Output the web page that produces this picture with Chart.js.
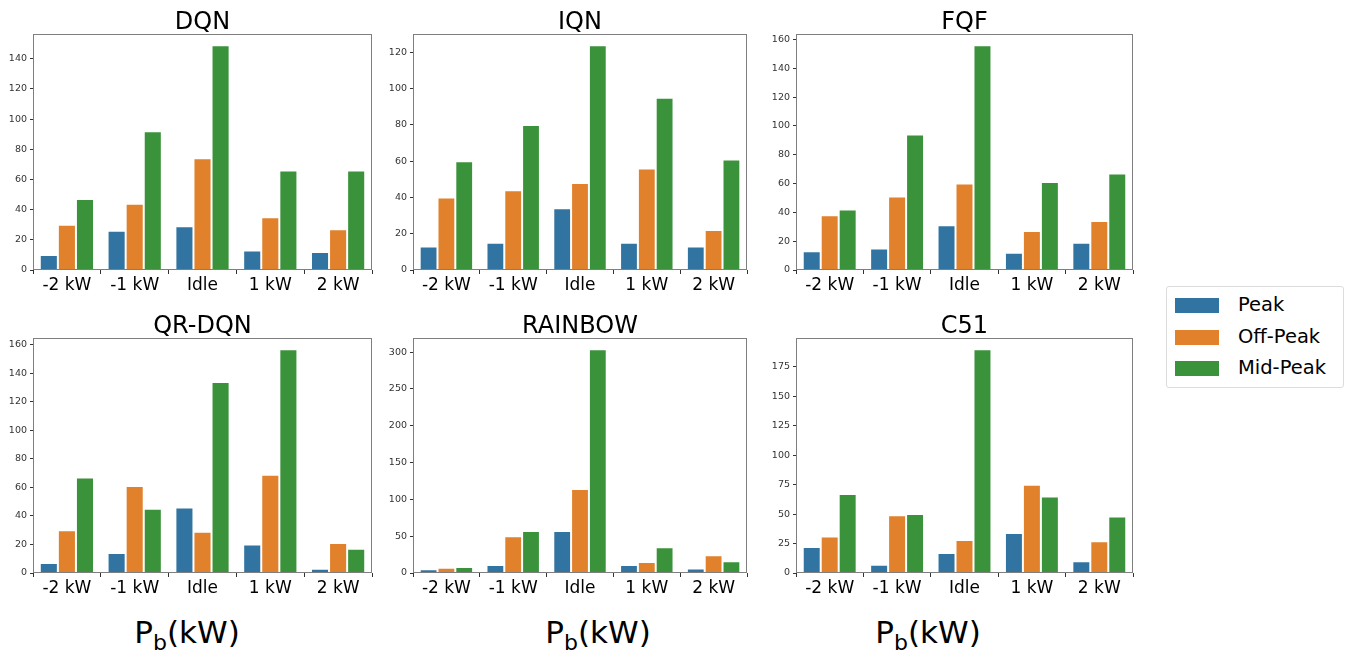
<!DOCTYPE html>
<html>
<head>
<meta charset="utf-8">
<script src="https://cdn.jsdelivr.net/npm/chart.js@4"></script>
<style>
  body { margin: 0; background: #fff; font-family: "DejaVu Sans", sans-serif; }
  #wrap { position: relative; width: 1347px; height: 654px; overflow: hidden; }
  canvas { position: absolute; }
  .title { position: absolute; font-size: 24px; color: #000; text-align: center; width: 300px; line-height: 24px; }
  .xlab { position: absolute; font-size: 31px; color: #000; text-align: center; width: 200px; line-height: 32px; }
  .xlab sub { font-size: 22px; vertical-align: -7px; line-height: 0; }
  #legend { position: absolute; left: 1166px; top: 286px; width: 176px; height: 100px;
            border: 1px solid #dcdcdc; border-radius: 3px; background: #fff; }
  .row { position: absolute; left: 8px; height: 20px; font-size: 19.5px; line-height: 20px; color: #000; }
  .row span.sw { position: absolute; left: 0; top: 3px; width: 44px; height: 15px; }
  .row span.tx { position: absolute; left: 63px; top: 0; white-space: nowrap; }
</style>
</head>
<body>
<div id="wrap"></div>
<script>
// categories and series
var categories = ["-2 kW", "-1 kW", "Idle", "1 kW", "2 kW"];
var seriesNames = ["Peak", "Off-Peak", "Mid-Peak"];
var seriesColors = ["#3274a1", "#e1812c", "#3a923a"];

var dqnPeak = [10, 26, 29, 13, 12];
var dqnOff  = [30, 44, 74, 35, 27];
var dqnMid  = [47, 92, 149, 66, 66];

var iqnPeak = [13, 15, 34, 15, 13];
var iqnOff  = [40, 44, 48, 56, 22];
var iqnMid  = [60, 80, 124, 95, 61];

var fqfPeak = [13, 15, 31, 12, 19];
var fqfOff  = [38, 51, 60, 27, 34];
var fqfMid  = [42, 94, 156, 61, 67];

var qrPeak = [7, 14, 46, 20, 3];
var qrOff  = [30, 61, 29, 69, 21];
var qrMid  = [67, 45, 134, 157, 17];

var rainbowPeak = [5, 11, 57, 11, 6];
var rainbowOff  = [7, 50, 114, 15, 24];
var rainbowMid  = [8, 57, 304, 35, 16];

var c51Peak = [22, 7, 17, 34, 10];
var c51Off  = [31, 49, 28, 75, 27];
var c51Mid  = [67, 50, 190, 65, 48];

// y tick steps per panel
var tickSteps = [20, 20, 20, 20, 50, 25];

var panels = [
  { title: "DQN",     series: [dqnPeak, dqnOff, dqnMid],             L: 33,  T: 34,  R: 372,  B: 270 },
  { title: "IQN",     series: [iqnPeak, iqnOff, iqnMid],             L: 413, T: 34,  R: 747,  B: 270 },
  { title: "FQF",     series: [fqfPeak, fqfOff, fqfMid],             L: 796, T: 34,  R: 1133, B: 270 },
  { title: "QR-DQN",  series: [qrPeak, qrOff, qrMid],                L: 33,  T: 338, R: 372,  B: 573 },
  { title: "RAINBOW", series: [rainbowPeak, rainbowOff, rainbowMid], L: 413, T: 338, R: 747,  B: 573 },
  { title: "C51",     series: [c51Peak, c51Off, c51Mid],             L: 796, T: 338, R: 1133, B: 573 }
];

var xlabCenters = [187, 598, 928];

var wrap = document.getElementById("wrap");
var YW = 40, XH = 34, PAD = 9;

// full box around plot area, like matplotlib spines
var frame = {
  id: "frame",
  afterDraw: function (chart) {
    var a = chart.chartArea, c = chart.ctx;
    c.save();
    c.strokeStyle = "#7f7f7f";
    c.lineWidth = 1;
    c.strokeRect(Math.round(a.left) + 0.5, Math.round(a.top) + 0.5,
                 Math.round(a.right - a.left) - 1, Math.round(a.bottom - a.top) - 1);
    c.restore();
  }
};

panels.forEach(function (p, i) {
  var w = (p.R - p.L) + YW + PAD;
  var h = (p.B - p.T) + PAD + XH;
  var cv = document.createElement("canvas");
  cv.width = w; cv.height = h;
  cv.style.left = (p.L - YW) + "px";
  cv.style.top = (p.T - PAD) + "px";
  cv.style.width = w + "px"; cv.style.height = h + "px";
  wrap.appendChild(cv);

  var t = document.createElement("div");
  t.className = "title";
  t.textContent = p.title;
  t.style.left = ((p.L + p.R) / 2 - 150) + "px";
  t.style.top = (p.T - 25) + "px";
  wrap.appendChild(t);

  var maxVal = Math.max.apply(null, p.series[0].concat(p.series[1], p.series[2]));
  var step = tickSteps[i];

  new Chart(cv, {
    type: "bar",
    data: {
      labels: categories,
      datasets: p.series.map(function (d, k) {
        return {
          label: seriesNames[k],
          data: d,
          backgroundColor: seriesColors[k],
          borderColor: "rgba(255,255,255,0.45)",
          borderWidth: { top: 1, left: 1, right: 1, bottom: 0 },
          categoryPercentage: 0.8,
          barPercentage: 1.0
        };
      })
    },
    options: {
      responsive: false,
      animation: false,
      devicePixelRatio: 1,
      layout: { padding: { top: PAD, right: PAD, left: 0, bottom: 0 } },
      plugins: { legend: { display: false }, tooltip: { enabled: false } },
      scales: {
        x: {
          grid: { display: true, drawOnChartArea: false, tickLength: 4, color: "#333" },
          border: { display: false },
          ticks: { color: "#000", font: { family: "DejaVu Sans", size: 17 }, padding: 1, maxRotation: 0 },
          afterFit: function (s) { s.height = XH; }
        },
        y: {
          min: 0,
          max: maxVal * 1.05,
          grid: { display: true, drawOnChartArea: false, tickLength: 3, color: "#333" },
          border: { display: false },
          ticks: { color: "#333", font: { family: "DejaVu Sans", size: 9.5 }, padding: 3 },
          afterBuildTicks: function (s) {
            var out = [];
            for (var v = 0; v <= s.max + 1e-9; v += step) out.push({ value: v });
            s.ticks = out;
          },
          afterFit: function (s) { s.width = YW; }
        }
      }
    },
    plugins: [frame]
  });
});

xlabCenters.forEach(function (cx) {
  var d = document.createElement("div");
  d.className = "xlab";
  d.innerHTML = "P<sub>b</sub>(kW)";
  d.style.left = (cx - 100) + "px";
  d.style.top = "616px";
  wrap.appendChild(d);
});

var lg = document.createElement("div");
lg.id = "legend";
seriesNames.forEach(function (n, k) {
  var r = document.createElement("div");
  r.className = "row";
  r.style.top = (8 + k * 31.5) + "px";
  r.innerHTML = '<span class="sw" style="background:' + seriesColors[k] + '"></span><span class="tx">' + n + '</span>';
  lg.appendChild(r);
});
wrap.appendChild(lg);
</script>
</body>
</html>
